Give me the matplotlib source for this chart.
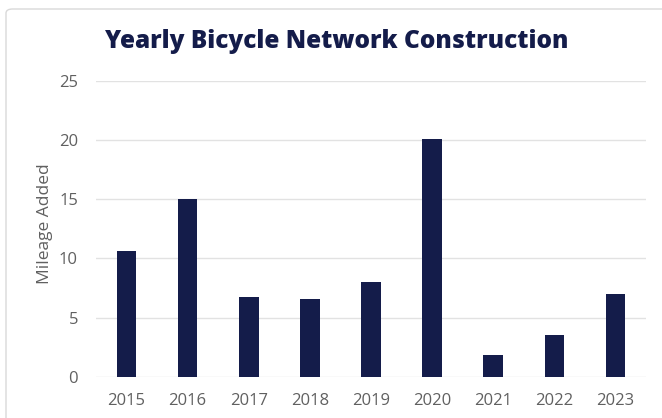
import matplotlib.pyplot as plt
from matplotlib.patches import FancyBboxPatch

years = ['2015', '2016', '2017', '2018', '2019', '2020', '2021', '2022', '2023']
mileage = [10.6, 15.0, 6.7, 6.6, 8.0, 20.1, 1.8, 3.5, 7.0]
yticks = [0, 5, 10, 15, 20, 25]

navy = '#141c4a'
grey_txt = '#606060'

plt.rcParams['font.family'] = ['Open Sans', 'DejaVu Sans']

fig = plt.figure(figsize=(6.62, 4.18), dpi=100)
fig.patch.set_facecolor('white')

# light card border around the chart
card = FancyBboxPatch((6 / 662, -0.2), 1.2, 1 - 9 / 418 + 0.2,
                      boxstyle='round,pad=0,rounding_size=0.01',
                      transform=fig.transFigure, fill=False,
                      edgecolor='#d9d9d9', linewidth=1.0)
fig.patches.append(card)

ax = fig.add_axes([96 / 662, 1 - 376.7 / 418, 550 / 662, (376.7 - 80.7) / 418])
x = range(len(years))
ax.bar(x, mileage, width=0.32, color=navy, zorder=3)

ax.set_xlim(-0.5, len(years) - 0.5)
ax.set_ylim(0, 25)
ax.set_yticks(yticks)
ax.set_xticks(list(x))
ax.set_xticklabels(years)
ax.yaxis.grid(True, color='#e2e2e2', linewidth=1.0, zorder=0)
ax.set_axisbelow(True)
for s in ax.spines.values():
    s.set_visible(False)
ax.tick_params(axis='both', length=0, labelsize=12, colors=grey_txt)
ax.tick_params(axis='x', pad=12)
ax.tick_params(axis='y', pad=13)

fig.text(45 / 662, 1 - 224 / 418, 'Mileage Added', rotation=90,
         ha='center', va='center', fontsize=12.5, color=grey_txt)
fig.text(337 / 662, 1 - 42 / 418, 'Yearly Bicycle Network Construction',
         ha='center', va='center', fontsize=17.6, fontweight='heavy', color=navy)

fig.savefig('out.png', dpi=100)
